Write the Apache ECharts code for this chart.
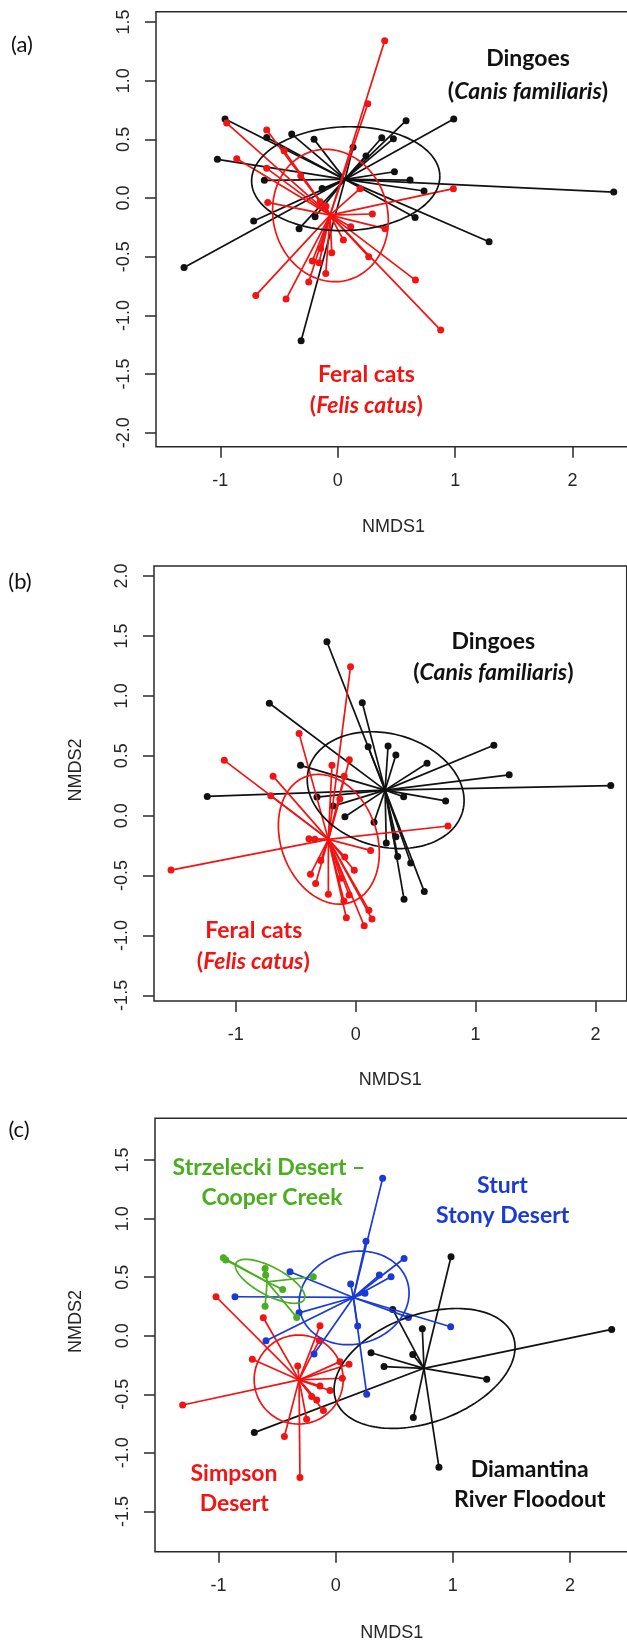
<!DOCTYPE html>
<html><head><meta charset="utf-8">
<script src="https://cdn.jsdelivr.net/npm/echarts@6/dist/echarts.min.js"></script>
<style>html,body{margin:0;padding:0;background:#fff}#c{width:627px;height:1643px}</style>
</head><body><div id="c"></div>
<script>
// ---------- tick labels ----------
const xTicks = [-1, 0, 1, 2];
const yTicksA = [-2, -1.5, -1, -0.5, 0, 0.5, 1, 1.5];
const yTicksB = [-1.5, -1, -0.5, 0, 0.5, 1, 1.5, 2];
const yTicksC = [-1.5, -1, -0.5, 0, 0.5, 1, 1.5];

// ---------- panel (a): NMDS by species ----------
const aDingoPts = [[-0.960,0.673],[-1.025,0.330],[-0.605,0.517],[-0.392,0.545],[-0.202,0.500],[-0.625,0.151],[-0.133,0.082],[-0.716,-0.196],[-0.193,-0.159],[-0.329,-0.261],[0.131,0.432],[0.241,0.358],[0.375,0.514],[0.474,0.506],[0.582,0.659],[0.988,0.673],[0.483,0.224],[0.616,0.153],[0.735,0.060],[0.659,-0.165],[1.289,-0.372],[2.351,0.051],[-1.309,-0.591],[-0.312,-1.216]];
const aDingoCentroid = [0.062, 0.159];
const aDingoEllipse = [0.068, 0.165, 0.802, 0.442, 2];   // cx, cy, semi-axis a, semi-axis b, angle (deg)
const aCatPts = [[0.400,1.341],[0.256,0.804],[-0.946,0.639],[-0.605,0.580],[-0.457,0.403],[-0.860,0.335],[-0.605,0.253],[-0.315,0.190],[0.190,0.080],[0.985,0.080],[-0.596,-0.037],[-0.150,-0.031],[-0.100,-0.070],[0.295,-0.136],[0.111,-0.244],[0.403,-0.261],[0.048,-0.358],[-0.051,-0.466],[-0.145,-0.429],[0.264,-0.500],[-0.216,-0.537],[-0.159,-0.551],[-0.102,-0.642],[-0.247,-0.716],[-0.698,-0.830],[-0.440,-0.861],[0.662,-0.699],[0.877,-1.125]];
const aCatCentroid = [-0.065, -0.145];
const aCatEllipse = [-0.062, -0.149, 0.487, 0.569, 15];

// ---------- panel (b) ----------
const bDingoPts = [[-0.240,1.452],[-0.720,0.938],[0.055,0.943],[0.104,0.575],[0.270,0.581],[0.335,0.506],[0.595,0.438],[1.152,0.588],[1.280,0.341],[2.127,0.251],[-0.460,0.420],[-1.238,0.161],[-0.323,0.155],[-0.188,0.080],[-0.090,-0.009],[0.153,-0.055],[0.400,0.158],[0.750,0.123],[0.255,-0.228],[0.335,-0.177],[0.350,-0.340],[0.459,-0.395],[0.572,-0.634],[0.403,-0.697]];
const bDingoCentroid = [0.245, 0.213];
const bDingoEllipse = [0.25, 0.213, 0.666, 0.471, -15.5];
const bCatPts = [[-0.043,1.244],[-0.472,0.685],[-1.096,0.462],[-0.689,0.330],[-0.198,0.420],[-0.053,0.466],[-0.096,0.328],[-0.708,0.166],[-0.132,0.140],[0.770,-0.086],[-1.540,-0.454],[-0.390,-0.193],[-0.340,-0.197],[0.124,-0.290],[-0.291,-0.375],[-0.377,-0.488],[-0.334,-0.566],[-0.091,-0.344],[-0.012,-0.455],[-0.124,-0.523],[-0.228,-0.655],[-0.055,-0.662],[-0.098,-0.712],[0.110,-0.789],[0.136,-0.863],[-0.078,-0.853],[0.071,-0.919]];
const bCatCentroid = [-0.228, -0.198];
const bCatEllipse = [-0.224, -0.197, 0.400, 0.557, 19.7];

// ---------- panel (c): by region ----------
const cStrzPts = [[-0.959,0.666],[-0.939,0.646],[-0.603,0.575],[-0.598,0.518],[-0.453,0.396],[-0.603,0.253],[-0.333,0.157],[-0.191,0.504]];
const cStrzCentroid = [-0.585, 0.46];
const cStrzEllipse = [-0.56, 0.465, 0.33, 0.12, -28];
const cSturtPts = [[0.401,1.344],[0.259,0.808],[-0.390,0.547],[-0.860,0.333],[0.128,0.441],[0.373,0.518],[0.473,0.504],[0.584,0.660],[0.250,0.362],[-0.313,0.196],[0.188,0.083],[0.621,0.157],[0.982,0.077],[-0.595,-0.043],[-0.185,-0.155],[0.265,-0.499]];
const cSturtCentroid = [0.151, 0.327];
const cSturtEllipse = [0.157, 0.323, 0.476, 0.392, 16.6];
const cSimpPts = [[-1.022,0.333],[-0.618,0.154],[-0.134,0.085],[-0.140,-0.040],[-0.712,-0.201],[-0.324,-0.258],[0.037,-0.221],[0.114,-0.243],[0.057,-0.363],[-0.134,-0.428],[-0.048,-0.468],[-0.205,-0.519],[-0.162,-0.548],[-0.105,-0.639],[-0.248,-0.713],[-0.438,-0.861],[-1.307,-0.591],[-0.305,-1.211]];
const cSimpCentroid = [-0.313, -0.377];
const cSimpEllipse = [-0.316, -0.374, 0.38, 0.38, 0];
const cDiamPts = [[0.985,0.675],[0.740,0.060],[0.487,0.225],[2.357,0.054],[0.302,-0.145],[0.658,-0.161],[0.413,-0.263],[1.290,-0.371],[0.663,-0.699],[0.882,-1.123],[-0.695,-0.827]];
const cDiamCentroid = [0.754, -0.278];
const cDiamEllipse = [0.759, -0.279, 0.805, 0.4595, 19.95];

// ---------- styles ----------
const BLACK = '#111111', RED = '#f21313', GREEN = '#4aae1e', BLUE = '#1a3ad6';
const AXC = '#2a2a2a';
const LBL = {fontFamily: 'Liberation Sans', fontSize: 18, color: '#262626', lineHeight: 18};

function spider(g, pts, centroid, color, z) {
  return {
    type: 'custom', xAxisIndex: g, yAxisIndex: g, z: z,
    data: pts, encode: {x: 0, y: 1}, silent: true,
    renderItem: function (params, api) {
      const p = api.coord([api.value(0), api.value(1)]);
      const c = api.coord(centroid);
      return {type: 'group', children: [
        {type: 'line', shape: {x1: c[0], y1: c[1], x2: p[0], y2: p[1]}, style: {stroke: color, lineWidth: 1.7}},
        {type: 'circle', shape: {cx: p[0], cy: p[1], r: 3.5}, style: {fill: color}}
      ]};
    }
  };
}
function ellipse(g, e, color, z) {
  return {
    type: 'custom', xAxisIndex: g, yAxisIndex: g, z: z,
    data: [e], encode: {x: 0, y: 1}, silent: true,
    renderItem: function (params, api) {
      const cx = api.value(0), cy = api.value(1), A = api.value(2), B = api.value(3);
      const t = api.value(4) * Math.PI / 180;
      const pts = [];
      for (let i = 0; i <= 160; i++) {
        const s = i / 160 * 2 * Math.PI;
        pts.push(api.coord([
          cx + A * Math.cos(t) * Math.cos(s) - B * Math.sin(t) * Math.sin(s),
          cy + A * Math.sin(t) * Math.cos(s) + B * Math.cos(t) * Math.sin(s)
        ]));
      }
      return {type: 'polyline', shape: {points: pts}, style: {stroke: color, fill: null, lineWidth: 1.7}};
    }
  };
}

const grids = [
  {left: 156, top: 11.7, width: 475, height: 435},
  {left: 154, top: 566, width: 472.7, height: 435},
  {left: 155, top: 1118.3, width: 473.5, height: 433.4}
].map(g => Object.assign(g, {show: true, borderColor: AXC, borderWidth: 1.5, backgroundColor: 'transparent', containLabel: false, outerBoundsMode: 'none'}));

function xAx(g, min, max, gap) {
  return {
    gridIndex: g, type: 'value', position: 'bottom', min: min, max: max,
    axisLine: {show: false, onZero: false}, splitLine: {show: false},
    axisTick: {show: true, length: 11, customValues: xTicks, lineStyle: {color: AXC, width: 1.5}},
    axisLabel: Object.assign({customValues: xTicks, margin: 25, formatter: v => String(v)}, LBL),
    name: 'NMDS1', nameLocation: 'middle', nameGap: gap,
    nameTextStyle: Object.assign({}, LBL)
  };
}
function yAx(g, min, max, ticks, name, gap, pad) {
  const o = {
    gridIndex: g, type: 'value', position: 'left', min: min, max: max,
    axisLine: {show: false, onZero: false}, splitLine: {show: false},
    axisTick: {show: true, length: 11, customValues: ticks, lineStyle: {color: AXC, width: 1.5}},
    axisLabel: Object.assign({customValues: ticks, margin: 23, rotate: 90, formatter: v => v.toFixed(1)}, LBL)
  };
  if (name) {
    o.name = name; o.nameLocation = 'middle'; o.nameGap = gap; o.nameRotate = 90;
    o.nameTextStyle = Object.assign({padding: [0, 0, 0, pad]}, LBL);
  }
  return o;
}

function txt(x, y, parts, color) {
  // parts: array of [string, italic]
  const rich = {
    n: {fontFamily: 'Lato', fontWeight: 'bold', fontSize: 23, fill: color, color: color},
    i: {fontFamily: 'Lato', fontWeight: 'bold', fontStyle: 'italic', fontSize: 23, fill: color, color: color}
  };
  const s = parts.map(p => '{' + (p[1] ? 'i' : 'n') + '|' + p[0] + '}').join('');
  return {type: 'text', x: x, y: y, silent: true, z: 100,
    style: {text: s, rich: rich, align: 'center', verticalAlign: 'middle', fill: color,
      fontFamily: 'Lato', fontWeight: 'bold', fontSize: 23}};
}
function panelLabel(x, y, s) {
  return {type: 'text', x: x, y: y, silent: true,
    style: {text: s, fontFamily: 'Lato', fontSize: 22, fill: '#111', align: 'center', verticalAlign: 'middle'}};
}

const option = {
  animation: false,
  backgroundColor: '#ffffff',
  grid: grids,
  xAxis: [xAx(0, -1.548, 2.498, 71), xAx(1, -1.682, 2.260, 70), xAx(2, -1.543, 2.5006, 72)],
  yAxis: [yAx(0, -2.119, 1.588, yTicksA, null), yAx(1, -1.547, 2.084, yTicksB, 'NMDS2', 69, 27), yAx(2, -1.844, 1.857, yTicksC, 'NMDS2', 70, 27)],
  series: [
    spider(0, aDingoPts, aDingoCentroid, BLACK, 2),
    spider(0, aCatPts, aCatCentroid, RED, 3),
    ellipse(0, aDingoEllipse, BLACK, 4),
    ellipse(0, aCatEllipse, RED, 4),
    spider(1, bDingoPts, bDingoCentroid, BLACK, 2),
    spider(1, bCatPts, bCatCentroid, RED, 3),
    ellipse(1, bDingoEllipse, BLACK, 4),
    ellipse(1, bCatEllipse, RED, 4),
    spider(2, cDiamPts, cDiamCentroid, BLACK, 2),
    spider(2, cSimpPts, cSimpCentroid, RED, 3),
    spider(2, cSturtPts, cSturtCentroid, BLUE, 3),
    spider(2, cStrzPts, cStrzCentroid, GREEN, 3),
    ellipse(2, cDiamEllipse, BLACK, 4),
    ellipse(2, cSimpEllipse, RED, 4),
    ellipse(2, cSturtEllipse, BLUE, 4),
    ellipse(2, cStrzEllipse, GREEN, 4)
  ],
  graphic: [
    panelLabel(22, 45, '(a)'), panelLabel(20, 582, '(b)'), panelLabel(19, 1130, '(c)'),
    txt(528, 58.3, [['Dingoes', false]], BLACK),
    txt(528, 91.7, [['(', false], ['Canis familiaris', true], [')', false]], BLACK),
    txt(366.5, 375, [['Feral cats', false]], RED),
    txt(366.3, 405.7, [['(', false], ['Felis catus', true], [')', false]], RED),
    txt(493.3, 641.7, [['Dingoes', false]], BLACK),
    txt(493.3, 673, [['(', false], ['Canis familiaris', true], [')', false]], BLACK),
    txt(253.8, 930.8, [['Feral cats', false]], RED),
    txt(253.3, 961.7, [['(', false], ['Felis catus', true], [')', false]], RED),
    txt(269, 1167.5, [['Strzelecki Desert –', false]], GREEN),
    txt(272, 1197.2, [['Cooper Creek', false]], GREEN),
    txt(502.5, 1185.8, [['Sturt', false]], BLUE),
    txt(502.7, 1215.8, [['Stony Desert', false]], BLUE),
    txt(234, 1473.3, [['Simpson', false]], RED),
    txt(234.2, 1503.3, [['Desert', false]], RED),
    txt(529.7, 1469.2, [['Diamantina', false]], BLACK),
    txt(529.8, 1499.2, [['River Floodout', false]], BLACK)
  ]
};
const chart = echarts.init(document.getElementById('c'), null, {renderer: 'canvas'});
chart.setOption(option);
</script>
</body></html>
